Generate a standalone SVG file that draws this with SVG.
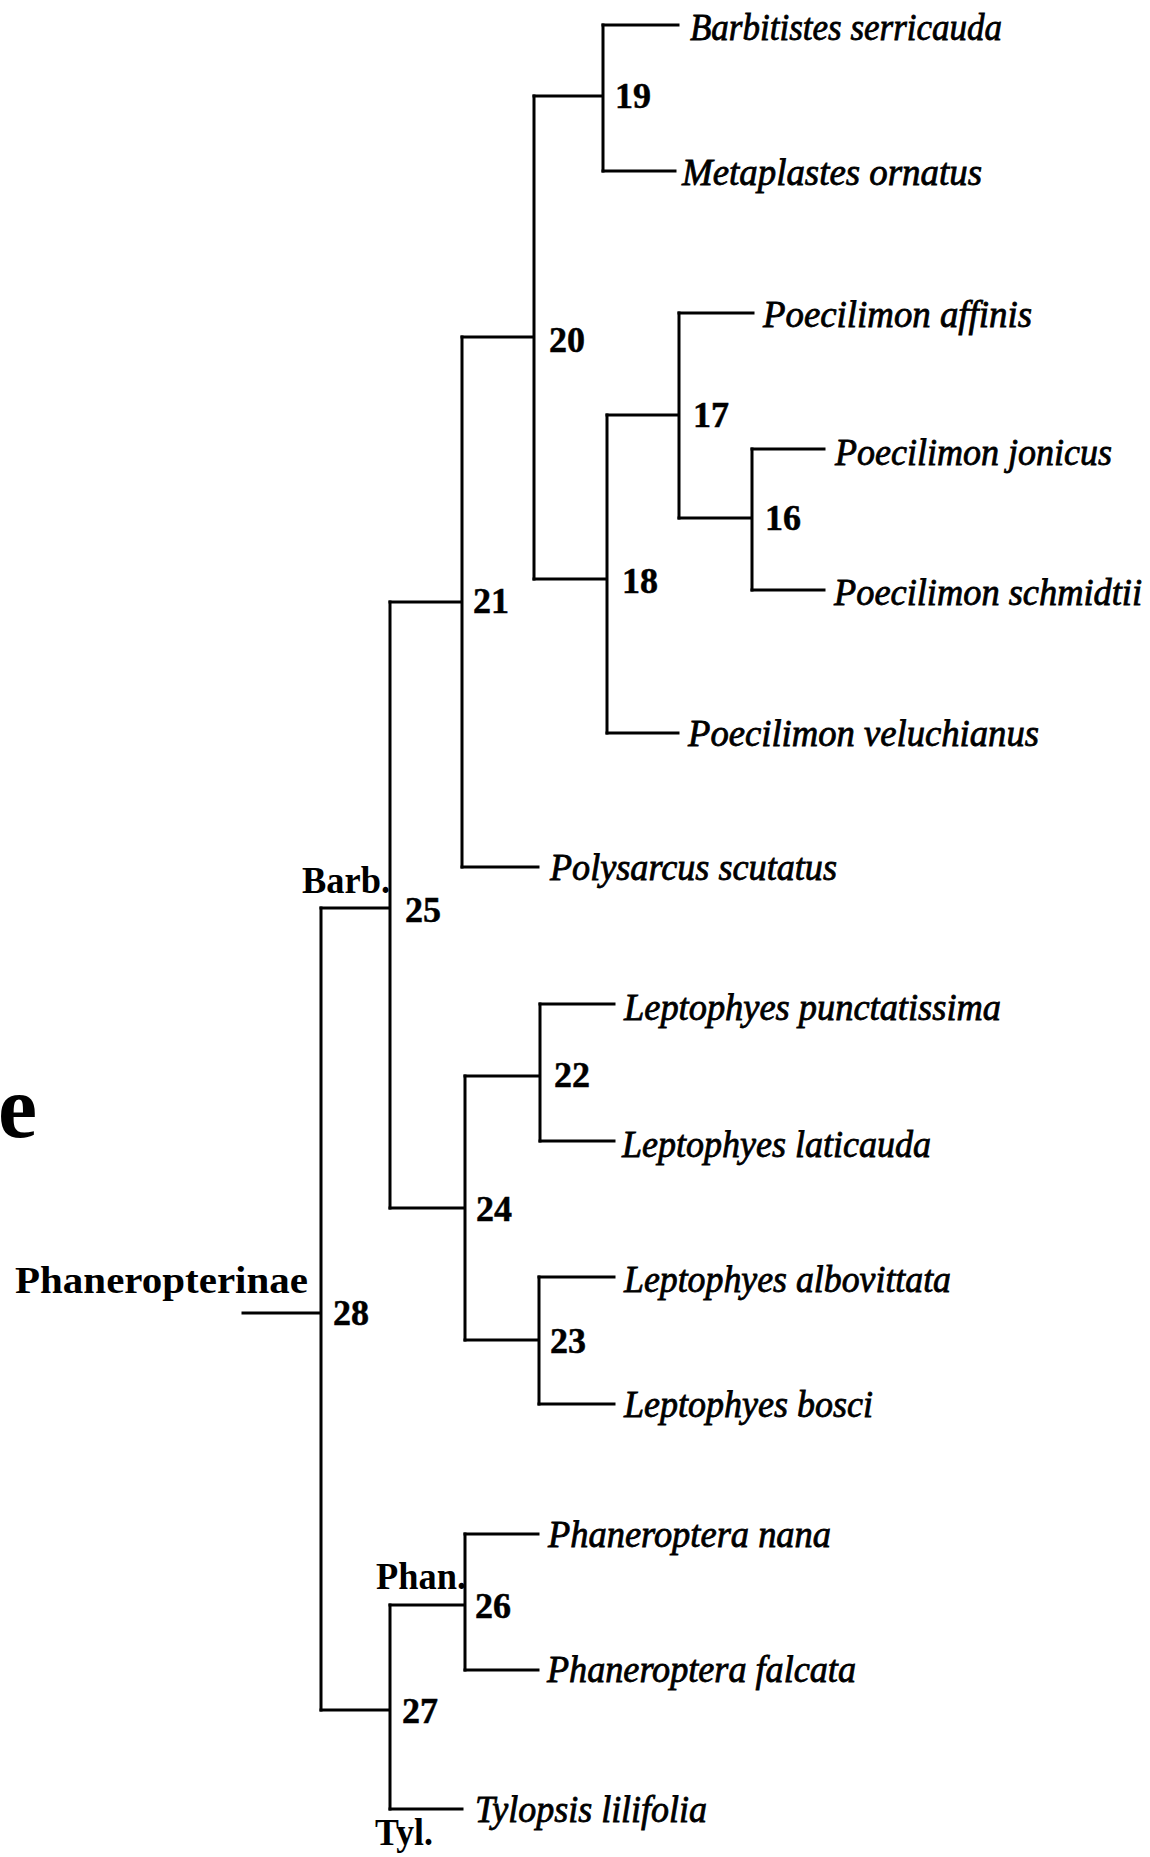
<svg xmlns="http://www.w3.org/2000/svg" width="1150" height="1857" viewBox="0 0 1150 1857">
<style>
.br{fill:none;stroke:#000;stroke-width:3;stroke-linecap:square}
.sp{font-family:"Liberation Serif",serif;font-style:italic;font-size:37px;fill:#000;stroke:#000;stroke-width:0.8}
.num{font-family:"Liberation Serif",serif;font-weight:bold;font-size:36px;fill:#000;stroke:#000;stroke-width:0.5}
.lab{font-family:"Liberation Serif",serif;font-weight:bold;font-size:37px;fill:#000}
</style>
<rect width="1150" height="1857" fill="#fff"/>
<g id="connectors">
<path class="br" d="M243,1313H321M321,908V1710"/>
<path class="br" d="M321,908H390M390,602V1208"/>
<path class="br" d="M390,602H462M462,337V867"/>
<path class="br" d="M462,337H534M534,96V579"/>
<path class="br" d="M534,96H603M603,25V171"/>
<path class="br" d="M603,25H678M603,171H675"/>
<path class="br" d="M534,579H607M607,415V733"/>
<path class="br" d="M607,415H679M679,313V518"/>
<path class="br" d="M679,313H753"/>
<path class="br" d="M679,518H752M752,449V590"/>
<path class="br" d="M752,449H824M752,590H824"/>
<path class="br" d="M607,733H678"/>
<path class="br" d="M462,867H538"/>
<path class="br" d="M390,1208H465M465,1076V1340"/>
<path class="br" d="M465,1076H540M540,1004V1141"/>
<path class="br" d="M540,1004H614M540,1141H614"/>
<path class="br" d="M465,1340H539M539,1277V1404"/>
<path class="br" d="M539,1277H614M539,1404H614"/>
<path class="br" d="M321,1710H390M390,1605V1809"/>
<path class="br" d="M390,1605H465M465,1534V1670"/>
<path class="br" d="M465,1534H538M465,1670H538"/>
<path class="br" d="M390,1809H462"/>
</g>
<g id="panel-label"><text x="-2" y="1137" style="font-family:'Liberation Serif',serif;font-weight:bold;font-size:88px">e</text></g>
<g id="n28"><text class="num" x="333" y="1325">28</text><text class="lab" x="15" y="1293" textLength="293" lengthAdjust="spacingAndGlyphs">Phaneropterinae</text></g>
<g id="n25"><text class="num" x="405" y="922">25</text><text class="lab" x="302" y="893" textLength="88" lengthAdjust="spacingAndGlyphs">Barb.</text></g>
<g id="n21"><text class="num" x="473" y="613">21</text></g>
<g id="n20"><text class="num" x="549" y="352">20</text></g>
<g id="n19"><text class="num" x="615" y="108">19</text></g>
<g id="n18"><text class="num" x="622" y="593">18</text></g>
<g id="n17"><text class="num" x="693" y="427">17</text></g>
<g id="n16"><text class="num" x="765" y="530">16</text></g>
<g id="n24"><text class="num" x="476" y="1221">24</text></g>
<g id="n22"><text class="num" x="554" y="1087">22</text></g>
<g id="n23"><text class="num" x="550" y="1353">23</text></g>
<g id="n27"><text class="num" x="402" y="1723">27</text><text class="lab" x="375" y="1845" textLength="58" lengthAdjust="spacingAndGlyphs">Tyl.</text></g>
<g id="n26"><text class="num" x="475" y="1618">26</text><text class="lab" x="376" y="1589" textLength="90" lengthAdjust="spacingAndGlyphs">Phan.</text></g>
<g id="t-barbitistes"><text class="sp" x="690" y="40" textLength="312" lengthAdjust="spacingAndGlyphs">Barbitistes serricauda</text></g>
<g id="t-metaplastes"><text class="sp" x="682" y="185" textLength="300" lengthAdjust="spacingAndGlyphs">Metaplastes ornatus</text></g>
<g id="t-affinis"><text class="sp" x="763" y="327" textLength="269" lengthAdjust="spacingAndGlyphs">Poecilimon affinis</text></g>
<g id="t-jonicus"><text class="sp" x="835" y="465" textLength="277" lengthAdjust="spacingAndGlyphs">Poecilimon jonicus</text></g>
<g id="t-schmidtii"><text class="sp" x="834" y="605" textLength="308" lengthAdjust="spacingAndGlyphs">Poecilimon schmidtii</text></g>
<g id="t-veluchianus"><text class="sp" x="688" y="746" textLength="351" lengthAdjust="spacingAndGlyphs">Poecilimon veluchianus</text></g>
<g id="t-polysarcus"><text class="sp" x="550" y="880" textLength="287" lengthAdjust="spacingAndGlyphs">Polysarcus scutatus</text></g>
<g id="t-punctatissima"><text class="sp" x="624" y="1020" textLength="377" lengthAdjust="spacingAndGlyphs">Leptophyes punctatissima</text></g>
<g id="t-laticauda"><text class="sp" x="622" y="1157" textLength="309" lengthAdjust="spacingAndGlyphs">Leptophyes laticauda</text></g>
<g id="t-albovittata"><text class="sp" x="624" y="1292" textLength="327" lengthAdjust="spacingAndGlyphs">Leptophyes albovittata</text></g>
<g id="t-bosci"><text class="sp" x="624" y="1417" textLength="249" lengthAdjust="spacingAndGlyphs">Leptophyes bosci</text></g>
<g id="t-nana"><text class="sp" x="548" y="1547" textLength="283" lengthAdjust="spacingAndGlyphs">Phaneroptera nana</text></g>
<g id="t-falcata"><text class="sp" x="547" y="1682" textLength="309" lengthAdjust="spacingAndGlyphs">Phaneroptera falcata</text></g>
<g id="t-tylopsis"><text class="sp" x="475" y="1822" textLength="232" lengthAdjust="spacingAndGlyphs">Tylopsis lilifolia</text></g>
</svg>
